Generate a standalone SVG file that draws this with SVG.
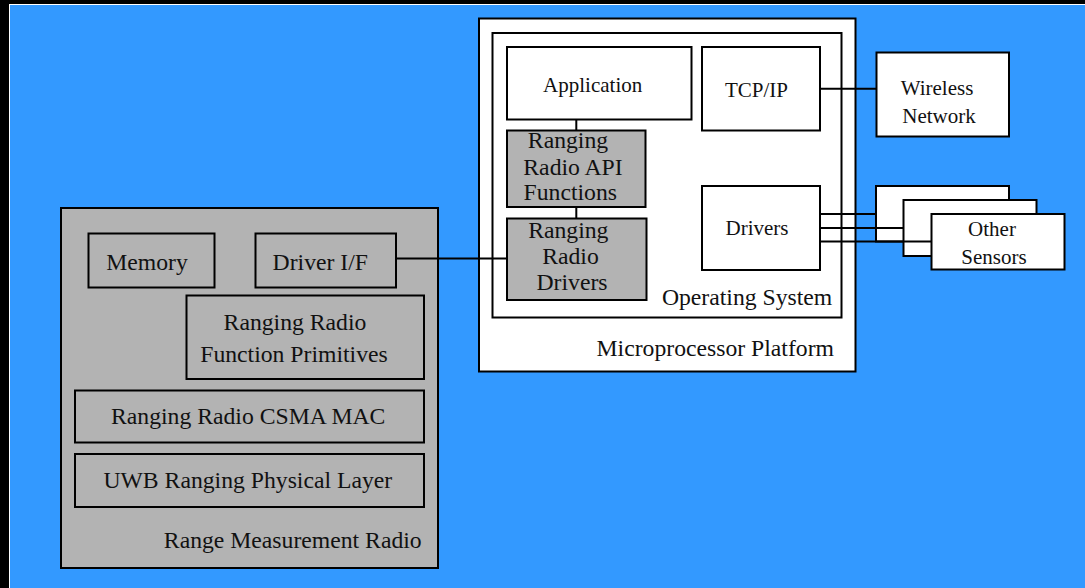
<svg xmlns="http://www.w3.org/2000/svg" width="1085" height="588" viewBox="0 0 1085 588">
<style>
.box{stroke:#000;stroke-width:2}
.w{fill:#fff}
.g{fill:#b3b3b3}
text{font-family:"Liberation Serif","Times New Roman",serif;fill:#111}
.s{font-size:21px}
.l{font-size:23.7px}
.c{text-anchor:middle}
.r{text-anchor:end}
.ln{stroke:#000;stroke-width:2;fill:none}
</style>
<rect x="0" y="0" width="1085" height="588" fill="#000"/>
<rect x="9" y="4" width="1076" height="584" fill="#fff"/>
<rect x="10" y="5" width="1075" height="583" fill="#3399ff"/>

<g id="range-measurement-radio">
<rect class="box g" x="61" y="208" width="377" height="360"/>
<text class="l r" x="421.7" y="548.3">Range Measurement Radio</text>
</g>
<g id="memory">
<rect class="box g" x="88.5" y="233.5" width="126" height="54"/>
<text class="l c" x="147" y="270">Memory</text>
</g>
<g id="driver-if">
<rect class="box g" x="255.5" y="233.5" width="140.5" height="54"/>
<text class="l c" x="320.3" y="270">Driver I/F</text>
</g>
<g id="function-primitives">
<rect class="box g" x="186.5" y="295.5" width="237.5" height="83.5"/>
<text class="l c" x="295" y="330">Ranging Radio</text>
<text class="l c" x="294" y="361.7">Function Primitives</text>
</g>
<g id="csma-mac">
<rect class="box g" x="75" y="390.5" width="349" height="52"/>
<text class="l c" x="248.2" y="424.3">Ranging Radio CSMA MAC</text>
</g>
<g id="uwb-phy">
<rect class="box g" x="75" y="454" width="349" height="53"/>
<text class="l c" x="247.8" y="487.7">UWB Ranging Physical Layer</text>
</g>

<g id="microprocessor-platform">
<rect class="box w" x="479" y="18.5" width="376.5" height="353"/>
<text class="l r" x="834" y="356">Microprocessor Platform</text>
</g>
<g id="operating-system">
<rect class="box w" x="492.5" y="33" width="349" height="284.5"/>
<text class="l r" x="832.3" y="305">Operating System</text>
</g>
<g id="application">
<rect class="box w" x="507" y="47" width="184.5" height="72.5"/>
<text class="s c" x="592.7" y="92.3">Application</text>
</g>
<g id="tcp-ip">
<rect class="box w" x="702" y="47" width="118" height="83.5"/>
<text class="s c" x="756.5" y="96.7">TCP/IP</text>
</g>
<g id="api-functions">
<rect class="box g" x="507" y="130.5" width="138.5" height="76.5"/>
<text class="l c" x="568" y="148.3">Ranging</text>
<text class="l c" x="573" y="175">Radio API</text>
<text class="l c" x="570.3" y="200">Functions</text>
</g>
<g id="radio-drivers">
<rect class="box g" x="507" y="218.5" width="139.5" height="81.5"/>
<text class="l c" x="568.3" y="238.3">Ranging</text>
<text class="l c" x="570.5" y="264">Radio</text>
<text class="l c" x="572" y="290">Drivers</text>
</g>
<g id="drivers">
<rect class="box w" x="702" y="186" width="118" height="84"/>
<text class="s c" x="757" y="235">Drivers</text>
</g>
<g id="wireless-network">
<rect class="box w" x="876.5" y="52.5" width="132.5" height="84"/>
<text class="s c" x="937" y="95">Wireless</text>
<text class="s c" x="939" y="122.7">Network</text>
</g>
<g id="sensor-1">
<rect class="box w" x="876" y="186" width="133" height="55.5"/>
</g>
<g id="sensor-2">
<rect class="box w" x="903.5" y="200" width="133" height="56"/>
</g>
<g id="connectors">
<line class="ln" x1="576.3" y1="119.5" x2="576.3" y2="130.5"/>
<line class="ln" x1="576.3" y1="207" x2="576.3" y2="218.5"/>
<line class="ln" x1="820" y1="88.7" x2="876.5" y2="88.7"/>
<line class="ln" x1="396" y1="258.5" x2="507" y2="258.5"/>
<line class="ln" x1="820" y1="214" x2="876" y2="214"/>
<line class="ln" x1="820" y1="228" x2="903.5" y2="228"/>
<line class="ln" x1="820" y1="241.5" x2="931.5" y2="241.5"/>
</g>
<g id="other-sensors">
<rect class="box w" x="931.5" y="214" width="133" height="55.5"/>
<text class="s c" x="992" y="235.7">Other</text>
<text class="s c" x="994" y="264.3">Sensors</text>
</g>
</svg>
